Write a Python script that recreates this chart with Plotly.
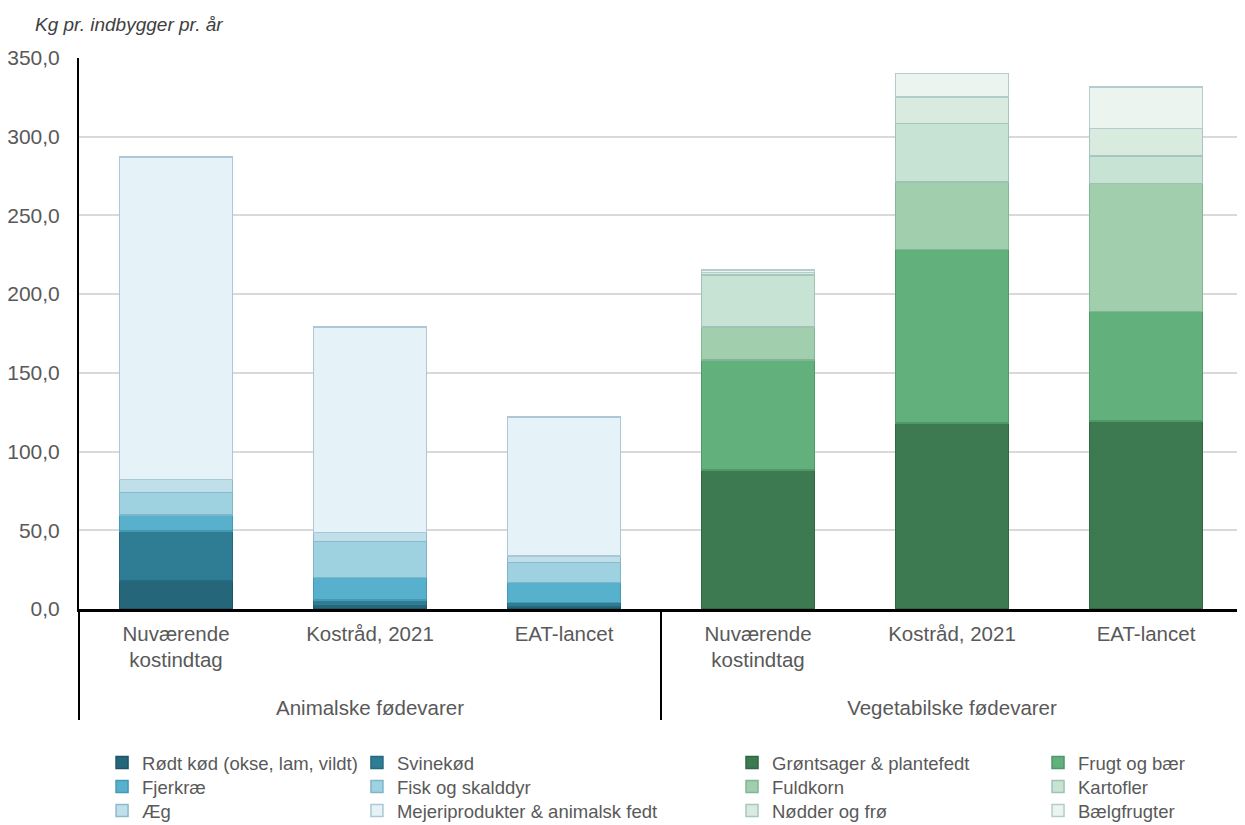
import plotly.graph_objects as go

groups = ["Animalske fødevarer"] * 3 + ["Vegetabilske fødevarer"] * 3
scenarios = ["Nuværende<br>kostindtag<br> ", "Kostråd, 2021", "EAT-lancet"] * 2

# Animal series (Nuværende, Kostråd 2021, EAT-lancet)
roedt_koed = [17.8, 2.2, 1.5]
svinekoed = [31.8, 3.5, 2.5]
fjerkrae = [10.1, 14.2, 12.7]
fisk = [14.2, 22.9, 12.7]
aeg = [8.5, 5.7, 4.3]
mejeri = [204.8, 130.7, 88.3]

# Vegetable series
groentsager = [88.3, 118.2, 119.4]
frugt = [69.9, 110.3, 69.5]
fuldkorn = [21.0, 42.8, 81.3]
kartofler = [33.0, 37.0, 17.4]
noedder = [1.5, 17.0, 17.6]
baelg = [1.7, 14.8, 26.4]

# (name, values, fill, outline, legend column, legend row)
animal_series = [
    ("Rødt kød (okse, lam, vildt)", roedt_koed, "#26667a", "#1d5566", 0, 0),
    ("Svinekød", svinekoed, "#2e7d94", "#246a7e", 1, 0),
    ("Fjerkræ", fjerkrae, "#57b1cc", "#4699b3", 0, 1),
    ("Fisk og skalddyr", fisk, "#9fd2e1", "#7fb5c8", 1, 1),
    ("Æg", aeg, "#bfe0ea", "#8fb9cb", 0, 2),
    ("Mejeriprodukter & animalsk fedt", mejeri, "#e5f3f8", "#acc7d6", 1, 2),
]
veg_series = [
    ("Grøntsager & plantefedt", groentsager, "#3d7a51", "#2f6742", 2, 0),
    ("Frugt og bær", frugt, "#62b07c", "#4f9868", 3, 0),
    ("Fuldkorn", fuldkorn, "#a1cfae", "#82b596", 2, 1),
    ("Kartofler", kartofler, "#c6e3d3", "#9ec3b6", 3, 1),
    ("Nødder og frø", noedder, "#d9ebdf", "#a8c6c0", 2, 2),
    ("Bælgfrugter", baelg, "#ebf4ef", "#b3cdcf", 3, 2),
]

font_family = "Liberation Sans, Arial, sans-serif"
col_x = [0.0198, 0.2388, 0.5610, 0.8239]
row_y = [-0.2795, -0.3230, -0.3666]

fig = go.Figure()
legends = {}
idx = 0
for series, pad in ((animal_series, "left"), (veg_series, "right")):
    for name, vals, color, lcolor, col, row in series:
        idx += 1
        leg_id = "legend" if idx == 1 else f"legend{idx}"
        y = vals + [None] * 3 if pad == "left" else [None] * 3 + vals
        fig.add_trace(go.Bar(
            x=[groups, scenarios], y=y, name=name, legend=leg_id,
            showlegend=True,
            marker=dict(color=color, line=dict(color=lcolor, width=1.5)),
        ))
        legends[leg_id] = dict(
            orientation="v", x=col_x[col], xanchor="left",
            y=row_y[row], yanchor="middle",
            font=dict(family=font_family, size=18.5, color="#595959"),
            bgcolor="rgba(0,0,0,0)", itemwidth=30, visible=True,
        )

fig.update_layout(
    barmode="stack",
    bargap=0.42,
    showlegend=True,
    width=1237, height=817,
    margin=dict(l=71, r=2, t=50, b=216, autoexpand=False),
    paper_bgcolor="white", plot_bgcolor="white",
    separators=",.",
    font=dict(family=font_family, size=20, color="#595959"),
    annotations=[dict(
        text="<i>Kg pr. indbygger pr. år</i>", xref="paper", yref="paper",
        x=-0.0395, y=1.0, xanchor="left", yanchor="bottom", yshift=21,
        showarrow=False, font=dict(family=font_family, size=19, color="#404040"),
    )],
    **legends,
)
fig.update_yaxes(
    range=[0, 350], dtick=50, tickformat=".1f", automargin=False,
    showgrid=True, gridcolor="#d9d9d9", gridwidth=1.5,
    showline=True, linecolor="black", linewidth=2,
    ticks="", ticklabelstandoff=13, zeroline=False,
    tickfont=dict(size=21, color="#595959"),
)
fig.update_xaxes(
    type="multicategory", automargin=False,
    showline=True, linecolor="black", linewidth=3,
    showdividers=True, dividercolor="black", dividerwidth=1.5,
    ticks="", ticklabelstandoff=4, tickfont=dict(size=20.5, color="#595959"),
)

fig.write_html("out.html")
